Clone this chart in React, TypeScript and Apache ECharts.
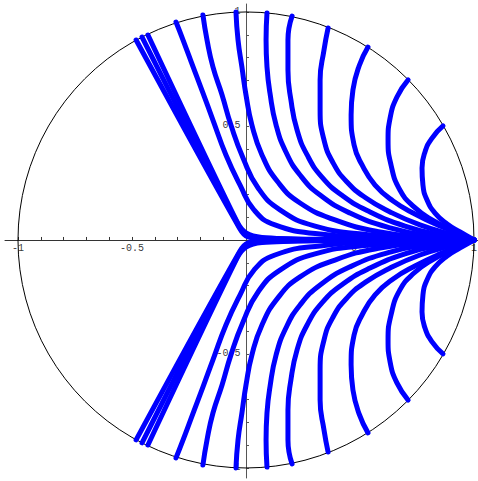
import React, { useEffect, useRef } from "react";
import * as echarts from "echarts";

// Tick positions and labelled values (data units)
const xTickValues = [-1, -0.9, -0.8, -0.7, -0.6, -0.5, -0.4, -0.3, -0.2, -0.1, 0.1, 0.2, 0.3, 0.4, 0.5, 0.6, 0.7, 0.8, 0.9, 1];
const yTickValues = [-1, -0.9, -0.8, -0.7, -0.6, -0.5, -0.4, -0.3, -0.2, -0.1, 0.1, 0.2, 0.3, 0.4, 0.5, 0.6, 0.7, 0.8, 0.9, 1];
const xLabelValues = [-1, -0.5, 0.5, 1];
const yLabelValues = [-1, -0.5, 0.5, 1];

// Unit circle: [centerX, centerY, radius]
const circleData = [[0, 0, 1]];

// Upper-half curves (x, y), each ends at (1, 0)
const c1 = [[0.864, 0.5], [0.816, 0.447], [0.785, 0.386], [0.772, 0.316], [0.776, 0.241], [0.794, 0.175], [0.829, 0.118], [0.882, 0.07], [0.939, 0.035], [1, 0]];
const c2 = [[0.711, 0.702], [0.662, 0.627], [0.632, 0.535], [0.623, 0.439], [0.636, 0.329], [0.675, 0.219], [0.737, 0.145], [0.816, 0.088], [0.904, 0.044], [1, 0]];
const c3 = [[0.535, 0.846], [0.496, 0.763], [0.469, 0.658], [0.461, 0.548], [0.474, 0.417], [0.509, 0.329], [0.566, 0.241], [0.645, 0.171], [0.741, 0.114], [0.851, 0.061], [1, 0]];
const c4 = [[0.36, 0.93], [0.342, 0.833], [0.325, 0.702], [0.325, 0.57], [0.342, 0.439], [0.382, 0.338], [0.443, 0.254], [0.526, 0.184], [0.632, 0.123], [0.763, 0.066], [0.895, 0.026], [1, 0]];
const c5 = [[0.202, 0.982], [0.184, 0.877], [0.184, 0.746], [0.197, 0.614], [0.224, 0.482], [0.268, 0.373], [0.333, 0.276], [0.425, 0.193], [0.544, 0.123], [0.697, 0.061], [0.851, 0.022], [1, 0]];
const c6 = [[0.092, 0.996], [0.088, 0.877], [0.092, 0.759], [0.105, 0.645], [0.132, 0.504], [0.175, 0.386], [0.237, 0.285], [0.325, 0.197], [0.456, 0.118], [0.632, 0.053], [0.807, 0.018], [1, 0]];
const c7 = [[-0.044, 1.0], [-0.035, 0.877], [-0.018, 0.759], [0, 0.636], [0.026, 0.504], [0.07, 0.373], [0.14, 0.254], [0.237, 0.162], [0.39, 0.088], [0.588, 0.035], [0.807, 0.009], [1, 0]];
const c8 = [[-0.189, 0.987], [-0.171, 0.877], [-0.145, 0.759], [-0.105, 0.636], [-0.066, 0.504], [-0.013, 0.36], [0.053, 0.228], [0.149, 0.132], [0.303, 0.061], [0.544, 0.022], [0.807, 0.004], [1, 0]];
const c9 = [[-0.307, 0.956], [-0.276, 0.877], [-0.232, 0.759], [-0.189, 0.645], [-0.145, 0.526], [-0.088, 0.373], [-0.026, 0.241], [0.035, 0.132], [0.127, 0.066], [0.325, 0.026], [0.675, 0.004], [1, 0]];
const c10 = [[-0.43, 0.899], [-0.039, 0.079], [0, 0.031], [0.07, 0.011], [0.325, 0.003], [1, 0]];
const c11 = [[-0.456, 0.89], [-0.034, 0.066], [0.004, 0.022], [0.083, 0.007], [0.368, 0.002], [1, 0]];
const c12 = [[-0.482, 0.877], [-0.029, 0.053], [0.009, 0.013], [0.096, 0.004], [0.412, 0.001], [1, 0]];

const smoothCurves = [c1, c2, c3, c4, c5, c6, c7, c8, c9];
const cornerCurves = [c10, c11, c12];

export default function App() {
  const ref = useRef<HTMLDivElement>(null);

  useEffect(() => {
    if (!ref.current) return;
    const chart = echarts.init(ref.current, null, { renderer: "svg" });

    const mkLine = (data: number[][], smooth: number) => ({
      type: "line",
      data,
      showSymbol: false,
      symbol: "none",
      smooth,
      silent: true,
      z: 3,
      lineStyle: { color: "#0000ff", width: 5, cap: "round", join: "round" },
    });
    const lineSeries: any[] = [];
    smoothCurves.forEach((c) => {
      lineSeries.push(mkLine(c, 0.5));
      lineSeries.push(mkLine(c.map(([x, y]) => [x, -y]), 0.5));
    });
    cornerCurves.forEach((c) => {
      lineSeries.push(mkLine(c, 0.3));
      lineSeries.push(mkLine(c.map(([x, y]) => [x, -y]), 0.3));
    });

    const labelText = {
      fontFamily: "Liberation Mono",
      fontSize: 10,
      color: "#000",
    };

    chart.setOption({
      animation: false,
      backgroundColor: "#ffffff",
      grid: { left: 5, top: 4, width: 473, height: 474, containLabel: false, outerBoundsMode: "none" },
      xAxis: {
        type: "value",
        min: -1.057,
        max: 1.0175,
        splitLine: { show: false },
        axisLine: { show: true, onZero: true, lineStyle: { color: "#333", width: 1 } },
        axisTick: { show: true, inside: true, length: 3, customValues: xTickValues, lineStyle: { color: "#333" } },
        axisLabel: { show: false },
      },
      yAxis: {
        type: "value",
        min: -1.044,
        max: 1.035,
        splitLine: { show: false },
        axisLine: { show: true, onZero: true, lineStyle: { color: "#555", width: 1 } },
        axisTick: { show: true, inside: true, length: 3, customValues: yTickValues, lineStyle: { color: "#555" } },
        axisLabel: { show: false },
      },
      series: [
        {
          type: "custom",
          data: circleData,
          silent: true,
          z: 1,
          renderItem: (params: any, api: any) => {
            const c = api.coord([api.value(0), api.value(1)]);
            const r = api.size([api.value(2), 0])[0];
            return {
              type: "circle",
              shape: { cx: c[0], cy: c[1], r },
              style: { fill: "none", stroke: "#000", lineWidth: 1 },
            };
          },
        },
        {
          type: "scatter",
          data: xLabelValues.map((v) => [v, 0]),
          symbolSize: 1,
          itemStyle: { color: "rgba(0,0,0,0)" },
          silent: true,
          z: 2,
          label: {
            show: true,
            position: "bottom",
            distance: 3,
            ...labelText,
            formatter: (p: any) => String(p.value[0]),
          },
        },
        {
          type: "scatter",
          data: yLabelValues.map((v) => [0, v]),
          symbolSize: 1,
          itemStyle: { color: "rgba(0,0,0,0)" },
          silent: true,
          z: 2,
          label: {
            show: true,
            position: "left",
            distance: 5,
            ...labelText,
            formatter: (p: any) => String(p.value[1]),
          },
        },
        ...lineSeries,
      ],
    });

    return () => chart.dispose();
  }, []);

  return (
    <div
      ref={ref}
      style={{ position: "fixed", left: 0, top: 0, width: 478, height: 481, background: "#fff" }}
    />
  );
}
